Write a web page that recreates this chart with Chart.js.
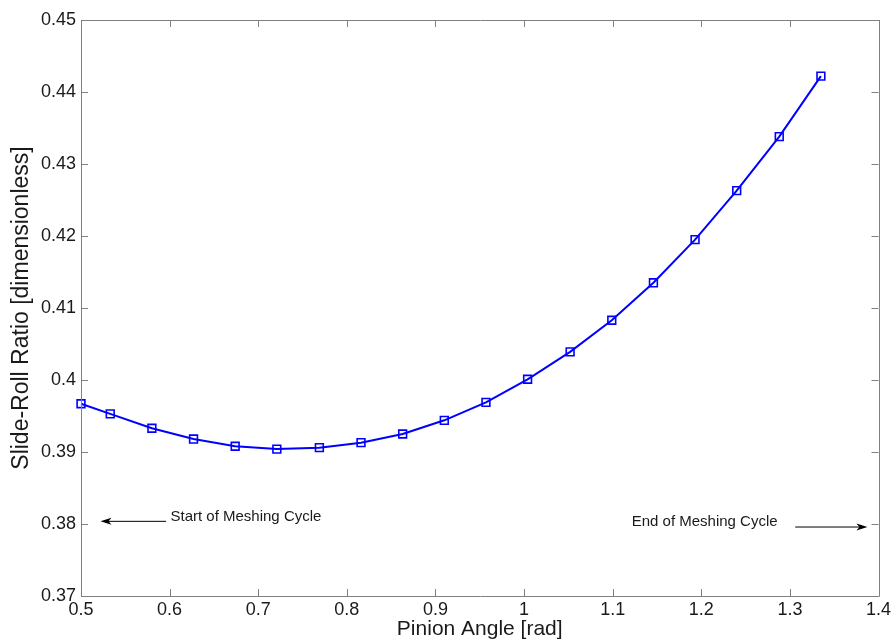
<!DOCTYPE html>
<html>
<head>
<meta charset="utf-8">
<script src="https://cdn.jsdelivr.net/npm/chart.js@4/dist/chart.umd.min.js"></script>
<style>
  html, body { margin: 0; padding: 0; background: #fff; }
  #wrap { width: 896px; height: 642px; }
</style>
</head>
<body>
<div id="wrap"><canvas id="chart-slide-roll" width="896" height="642"></canvas></div>
<script>
// ── Data ─────────────────────────────────────────────────────────
const pinionAngle = [0.500, 0.533, 0.580, 0.627, 0.674, 0.721, 0.769, 0.816, 0.863, 0.910,
                     0.957, 1.004, 1.052, 1.099, 1.146, 1.193, 1.240, 1.288, 1.335];
const slideRoll   = [0.3967, 0.3953, 0.3933, 0.3918, 0.3908, 0.3904, 0.3906, 0.3913, 0.3925, 0.3944,
                     0.3969, 0.4001, 0.4039, 0.4083, 0.4135, 0.4195, 0.4263, 0.4338, 0.4422];
const xTicks = [0.5, 0.6, 0.7, 0.8, 0.9, 1.0, 1.1, 1.2, 1.3, 1.4];
const yTicks = [0.37, 0.38, 0.39, 0.40, 0.41, 0.42, 0.43, 0.44, 0.45];

// text notes with arrows, in data units
const noteTexts  = ['Start of Meshing Cycle', 'End of Meshing Cycle'];
const noteAt     = [[0.601, 0.3810], [1.1215, 0.3803]];
const arrowFrom  = [[0.596, 0.38037], [1.306, 0.37958]];
const arrowTo    = [[0.522, 0.38037], [1.3875, 0.37958]];

const fontFam  = 'Arial, "Liberation Sans", Helvetica, sans-serif';
const boxColor = '#808080';
const txtColor = '#1a1a1a';

// ── Box + inward ticks + notes (MATLAB look) ─────────────────────
const matlabFrame = {
    id: 'matlabFrame',
    afterDatasetsDraw(chart) {
        const { ctx, chartArea: a, scales: { x, y } } = chart;
        const tl = 7;
        ctx.save();
        ctx.strokeStyle = boxColor;
        ctx.lineWidth = 1;
        ctx.beginPath();
        ctx.rect(Math.round(a.left) + 0.5, Math.round(a.top) + 0.5,
                 Math.round(a.right - a.left), Math.round(a.bottom - a.top));
        xTicks.forEach(v => {
            const px = Math.round(x.getPixelForValue(v)) + 0.5;
            ctx.moveTo(px, a.bottom); ctx.lineTo(px, a.bottom - tl);
            ctx.moveTo(px, a.top);    ctx.lineTo(px, a.top + tl);
        });
        yTicks.forEach(v => {
            const py = Math.round(y.getPixelForValue(v)) + 0.5;
            ctx.moveTo(a.left, py);  ctx.lineTo(a.left + tl, py);
            ctx.moveTo(a.right, py); ctx.lineTo(a.right - tl, py);
        });
        ctx.stroke();

        // notes
        ctx.fillStyle = txtColor;
        ctx.strokeStyle = '#000';
        ctx.font = '15px ' + fontFam;
        ctx.textBaseline = 'middle';
        ctx.textAlign = 'left';
        noteTexts.forEach((t, i) => {
            ctx.fillText(t, x.getPixelForValue(noteAt[i][0]), y.getPixelForValue(noteAt[i][1]));
            const x0 = x.getPixelForValue(arrowFrom[i][0]), y0 = y.getPixelForValue(arrowFrom[i][1]);
            const x1 = x.getPixelForValue(arrowTo[i][0]),   y1 = y.getPixelForValue(arrowTo[i][1]);
            const dir = Math.sign(x1 - x0);
            ctx.beginPath();
            ctx.moveTo(x0, y0); ctx.lineTo(x1 - dir * 6, y1);
            ctx.lineWidth = 1;
            ctx.stroke();
            ctx.beginPath();
            ctx.moveTo(x1, y1);
            ctx.lineTo(x1 - dir * 11, y1 - 3.5);
            ctx.lineTo(x1 - dir * 8, y1);
            ctx.lineTo(x1 - dir * 11, y1 + 3.5);
            ctx.closePath();
            ctx.fillStyle = '#000';
            ctx.fill();
            ctx.fillStyle = txtColor;
        });
        ctx.restore();
    }
};

// ── Chart ────────────────────────────────────────────────────────
new Chart(document.getElementById('chart-slide-roll'), {
    type: 'line',
    data: {
        datasets: [{
            label: 'Slide-Roll Ratio',
            data: pinionAngle.map((a, i) => ({ x: a, y: slideRoll[i] })),
            borderColor: '#0000ff',
            borderWidth: 2,
            tension: 0,
            pointStyle: 'rect',
            pointRadius: 5.5,
            pointBorderWidth: 1.6,
            pointBorderColor: '#0000ff',
            pointBackgroundColor: 'rgba(0,0,0,0)',
            clip: false,
        }]
    },
    options: {
        responsive: false,
        animation: false,
        devicePixelRatio: 1,
        layout: { padding: { top: 20, right: 17.5, left: 0, bottom: 0 } },
        plugins: { legend: { display: false }, tooltip: { enabled: false } },
        scales: {
            x: {
                type: 'linear', min: 0.5, max: 1.4,
                grid: { display: false, drawTicks: false }, border: { display: false },
                afterBuildTicks: s => { s.ticks = xTicks.map(v => ({ value: v })); },
                afterFit: s => { s.height = 46; },
                ticks: {
                    padding: 3, color: txtColor, maxRotation: 0, autoSkip: false,
                    font: { family: fontFam, size: 18 },
                    callback: v => String(Number(v.toFixed(1)))
                },
                title: {
                    display: true, text: 'Pinion Angle [rad]', color: txtColor,
                    font: { family: fontFam, size: 21 }, padding: { top: 0, bottom: 0 }
                }
            },
            y: {
                type: 'linear', min: 0.37, max: 0.45,
                grid: { display: false, drawTicks: false }, border: { display: false },
                afterBuildTicks: s => { s.ticks = yTicks.map(v => ({ value: v })); },
                afterFit: s => { s.width = 81; },
                ticks: {
                    padding: 5, color: txtColor, autoSkip: false,
                    font: { family: fontFam, size: 18 },
                    callback: v => String(Number(v.toFixed(2)))
                },
                title: {
                    display: true, text: 'Slide-Roll Ratio [dimensionless]', color: txtColor,
                    font: { family: fontFam, size: 23 }, padding: { top: 8, bottom: 0 }
                }
            }
        }
    },
    plugins: [matlabFrame]
});
</script>
</body>
</html>
